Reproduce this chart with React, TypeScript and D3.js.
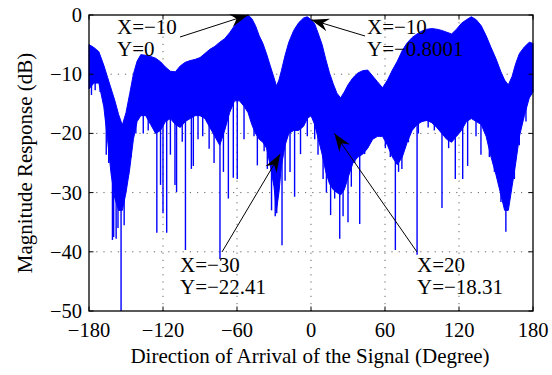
import React from "react";
import * as d3 from "d3";

// Envelope of the dense array response
const envAngles = [-180,-176,-172,-168,-165,-162,-159,-156,-153,-150,-147,-144,-141,-138,-134,-130,-126,-122,-118,-114,-110,-106,-102,-98,-94,-90,-86,-82,-78,-74,-70,-66,-62,-58,-54,-51,-48,-45,-42,-39,-36,-33,-30,-28,-26,-24,-21,-18,-14,-10,-6,-3,0,3,6,9,12,15,18,21,24,27,30,34,38,42,46,50,54,58,62,66,70,74,78,82,86,90,94,98,102,106,110,114,118,122,126,130,134,138,142,146,150,154,157,160,163,166,169,173,177,180];
const envTop = [-5.0,-5.5,-6.2,-8.5,-10.5,-12.5,-14.5,-16.8,-18.6,-16.5,-13.3,-10,-7.8,-6.7,-6.8,-7.0,-7.3,-7.9,-8.8,-9.5,-9.6,-8.6,-8.0,-7.7,-7.5,-7.2,-6.5,-5.8,-5.3,-4.6,-4.0,-3.0,-1.8,-0.9,-0.4,0,-0.6,-1.8,-3.5,-4.8,-6.6,-8.6,-10.6,-12,-11,-9.4,-6.8,-4.6,-2.6,-1.3,-0.5,-0.3,-0.8,-1.5,-3.2,-5.0,-7.5,-9.8,-11.6,-13.2,-14.0,-13.0,-11.8,-10.6,-9.8,-9.4,-9.3,-10.3,-11.3,-12.3,-11,-9.3,-7.8,-6.0,-4.7,-3.8,-3.2,-2.7,-2.4,-2.3,-2.4,-2.6,-2.9,-3.2,-2.4,-1.4,-0.8,-0.3,-0.8,-1.8,-3.5,-5.5,-7.4,-9.6,-11,-11.8,-10.4,-8.2,-6.5,-5.4,-4.6,-4.8];
const envBottom = [-12.5,-11.5,-11.5,-15.5,-21,-27,-31,-33,-33,-30,-26,-21,-18,-17,-17,-18.5,-20,-19.5,-18,-17.5,-18.5,-19,-18,-17.5,-17,-17,-17.5,-19,-20.5,-22,-19.5,-16.5,-14.5,-14.5,-15.5,-16.5,-18.5,-20,-21,-21.5,-22.5,-25.5,-29,-33,-30,-25.5,-22,-20,-19.5,-19.5,-18.8,-17.5,-17,-18.5,-21,-23.5,-26.5,-28.5,-29.5,-30,-30.4,-29.5,-27.5,-25,-24,-23.5,-22.5,-21,-20.5,-20.5,-22,-24,-25.3,-24,-21.5,-19.5,-18.5,-18,-17.8,-18.2,-19,-20,-21,-21.5,-20.5,-19.5,-18,-17.5,-18,-18.5,-20.5,-24,-27,-30.4,-33,-33,-29,-25,-20.5,-17,-14,-13];

// Deep nulls (spikes): angle, depth (dB)
const spikeAngles = [-178,-175,-171,-166,-164,-161,-160,-158,-156.5,-154,-151.5,-150,-148,-146,-142,-136,-132,-125,-122,-120,-117,-114,-110.3,-109,-104.4,-101.8,-97,-95.4,-91.6,-87.8,-82.6,-78.6,-73.8,-71,-67,-63,-59.8,-54.3,-46.2,-43.5,-38,-35.4,-32,-29,-27.8,-23.5,-21,-17,-13.3,-8.5,-3,3,5.7,9.8,12.5,15.9,19.2,23.3,26,30,32.7,35.4,39.5,43.5,48.9,54.3,60.3,64.3,68.4,71,73.7,79,86,87,95,100,106.2,111.6,117,123,127,133.8,137.8,144.6,148.7,154,158,160.8,164.9,168.9,174.3];
const spikeDepths = [-13.5,-12.7,-13,-23.6,-25,-38,-37.5,-37.8,-36,-50,-35.5,-27.5,-27,-24,-20,-20,-19.5,-36.8,-28.7,-33.5,-36.8,-23.6,-28.7,-29.9,-21.4,-39.7,-26,-25.5,-21,-20.5,-22.6,-25,-41.2,-26.5,-31,-27.5,-27.7,-21,-20.5,-25.4,-23,-26,-33,-34,-33.5,-38.9,-28,-26.5,-30.7,-23.5,-20.5,-21,-23.6,-27.7,-30,-33.8,-31,-37.8,-34,-35,-29,-25,-35.3,-23.5,-21,-20.5,-22.5,-24,-39.7,-26.5,-26,-21.5,-40.5,-20,-19,-19.5,-32.6,-22.5,-27.7,-27.7,-25.5,-20.5,-23.6,-24,-26.5,-31.6,-36.6,-31,-27.7,-22,-18];

const xTicks = [-180, -120, -60, 0, 60, 120, 180];
const yTicks = [0, -10, -20, -30, -40, -50];

// Data tip annotations
const tipX = [-10, -10, -30, 20];
const tipY = ["0", "\u22120.8001", "\u221222.41", "\u221218.31"];
const tipAnchorAngle = [-51, 0, -25, 19];
const tipAnchorDb = [0, -0.8, -23.5, -20.0];

const W = 552, H = 375;
const L = 89, T = 15, R = 533, B = 311;

const fmt = (v: number) => (v < 0 ? "\u2212" + Math.abs(v) : String(v));

export default function App() {
  const x = d3.scaleLinear().domain([-180, 180]).range([L, R]);
  const y = d3.scaleLinear().domain([-50, 0]).range([B, T]);
  const topAt = d3.scaleLinear().domain(envAngles).range(envTop);

  const area = d3
    .area<number>()
    .x((_, i) => x(envAngles[i]))
    .y0((_, i) => y(envBottom[i]))
    .y1((_, i) => y(envTop[i]));

  const font = "'Liberation Serif', 'Times New Roman', serif";
  const tickFs = 20.5;
  const annFs = 21;

  const textPos = [
    { tx: 117, ty: 34, sx: 180, sy: 37 },
    { tx: 367, ty: 34, sx: 365, sy: 36 },
    { tx: 180, ty: 272, sx: 222, sy: 252 },
    { tx: 417, ty: 272, sx: 417, sy: 252 },
  ];

  const arrowHead = (x0: number, y0: number, x1: number, y1: number) => {
    const dx = x1 - x0, dy = y1 - y0;
    const len = Math.hypot(dx, dy);
    const ux = dx / len, uy = dy / len;
    const px = -uy, py = ux;
    const hl = 18, hw = 6.5, notch = 12;
    const bx = x1 - ux * hl, by = y1 - uy * hl;
    const nx = x1 - ux * notch, ny = y1 - uy * notch;
    return `M${x1},${y1}L${bx + px * hw},${by + py * hw}L${nx},${ny}L${bx - px * hw},${by - py * hw}Z`;
  };

  return (
    <svg width={W} height={H} style={{ position: "absolute", left: 0, top: 0, background: "#fff" }}>
      <rect x={0} y={0} width={W} height={H} fill="#fff" />
      {xTicks.slice(1, -1).map((t) => (
        <line key={"gx" + t} x1={x(t)} x2={x(t)} y1={T} y2={B} stroke="#666" strokeWidth={1} strokeDasharray="1.2,6" />
      ))}
      {yTicks.slice(1, -1).map((t) => (
        <line key={"gy" + t} x1={L} x2={R} y1={y(t)} y2={y(t)} stroke="#666" strokeWidth={1} strokeDasharray="1.2,6" />
      ))}
      <path d={area(envAngles) || ""} fill="#0000ff" stroke="#0000ff" strokeWidth={1} />
      {spikeAngles.map((a, i) => (
        <line key={"s" + i} x1={x(a)} x2={x(a)} y1={y(topAt(a)) + 4} y2={y(spikeDepths[i])} stroke="#0000ff" strokeWidth={1.4} />
      ))}
      <rect x={L} y={T} width={R - L} height={B - T} fill="none" stroke="#000" strokeWidth={1.3} />
      {xTicks.map((t) => (
        <g key={"xt" + t}>
          <line x1={x(t)} x2={x(t)} y1={B} y2={B - 4.5} stroke="#000" />
          <line x1={x(t)} x2={x(t)} y1={T} y2={T + 4.5} stroke="#000" />
          <text x={x(t)} y={337} textAnchor="middle" fontFamily={font} fontSize={tickFs}>{fmt(t)}</text>
        </g>
      ))}
      {yTicks.map((t) => (
        <g key={"yt" + t}>
          <line x1={L} x2={L + 4.5} y1={y(t)} y2={y(t)} stroke="#000" />
          <line x1={R} x2={R - 4.5} y1={y(t)} y2={y(t)} stroke="#000" />
          <text x={82} y={y(t) + 7} textAnchor="end" fontFamily={font} fontSize={tickFs}>{fmt(t)}</text>
        </g>
      ))}
      <text x={310} y={363} textAnchor="middle" fontFamily={font} fontSize={21}>
        Direction of Arrival of the Signal (Degree)
      </text>
      <text transform={`translate(32,${(T + B) / 2}) rotate(-90)`} textAnchor="middle" fontFamily={font} fontSize={21}>
        Magnitude Response (dB)
      </text>
      {tipX.map((v, i) => {
        const p = textPos[i];
        const ex = x(tipAnchorAngle[i]);
        const ey = y(tipAnchorDb[i]);
        return (
          <g key={"tip" + i}>
            <line x1={p.sx} y1={p.sy} x2={ex} y2={ey} stroke="#000" strokeWidth={1} />
            <path d={arrowHead(p.sx, p.sy, ex, ey)} fill="#000" />
            <text x={p.tx} y={p.ty} fontFamily={font} fontSize={annFs}>{"X=" + fmt(v)}</text>
            <text x={p.tx} y={p.ty + 22} fontFamily={font} fontSize={annFs}>{"Y=" + tipY[i]}</text>
          </g>
        );
      })}
    </svg>
  );
}
